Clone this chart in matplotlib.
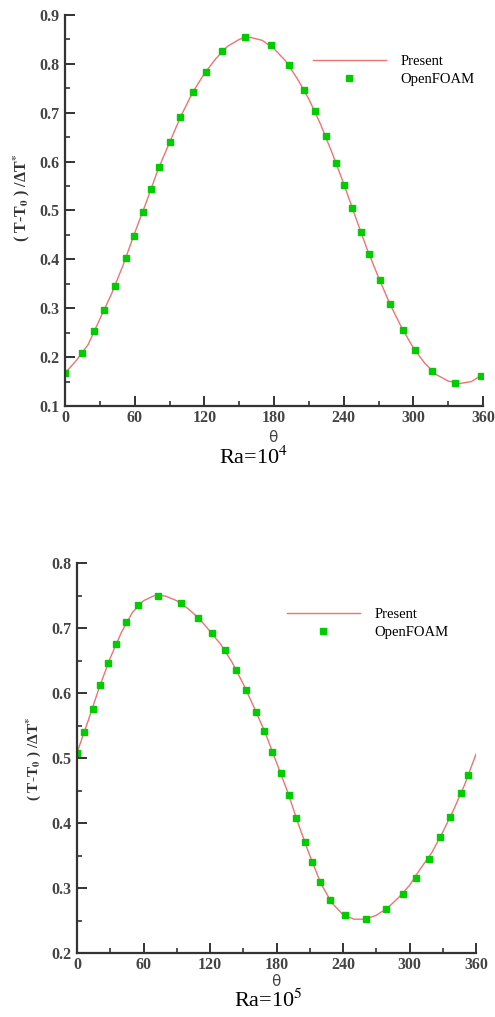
import matplotlib
matplotlib.use('Agg')
import matplotlib.pyplot as plt
from matplotlib.ticker import MultipleLocator, FormatStrFormatter

plt.rcParams['mathtext.fontset'] = 'stix'

# Ra = 1e4 : solver curve and OpenFOAM points
theta_line_4 = [0, 10, 20, 30, 40, 50, 60, 70, 80, 90, 100, 110, 120, 130, 140, 150,
                155, 160, 170, 180, 190, 200, 210, 220, 230, 240, 250, 260, 270, 280,
                290, 300, 310, 320, 330, 340, 350, 360]
present_4 = [0.167, 0.194, 0.226, 0.278, 0.329, 0.388, 0.454, 0.517, 0.583, 0.639, 0.694,
             0.742, 0.780, 0.811, 0.836, 0.850, 0.854, 0.854, 0.848, 0.831, 0.806, 0.770,
             0.728, 0.677, 0.618, 0.555, 0.488, 0.422, 0.363, 0.308, 0.260, 0.219, 0.187,
             0.164, 0.151, 0.146, 0.150, 0.165]
theta_of_4 = [0, 14.6, 25, 33.9, 43, 52.2, 59.1, 66.9, 73.8, 81.2, 90.4, 99.3, 110, 121.1,
              134.9, 155, 177.1, 192.9, 206, 215.3, 224.4, 233.3, 240.5, 247.4, 254.9,
              261.7, 270.9, 279.8, 291, 301.1, 316, 335.5, 357.9]
openfoam_4 = [0.167, 0.208, 0.253, 0.297, 0.345, 0.402, 0.448, 0.496, 0.544, 0.590, 0.641,
              0.691, 0.742, 0.784, 0.826, 0.854, 0.839, 0.797, 0.747, 0.703, 0.652, 0.598,
              0.552, 0.505, 0.457, 0.411, 0.358, 0.309, 0.256, 0.215, 0.172, 0.148, 0.161]

# Ra = 1e5
theta_line_5 = [0, 10, 20, 30, 40, 50, 60, 70, 75, 80, 90, 100, 110, 120, 130, 140, 150,
                160, 170, 180, 190, 200, 210, 220, 230, 240, 250, 260, 270, 280, 290, 300,
                310, 320, 330, 340, 350, 360]
present_5 = [0.508, 0.557, 0.608, 0.654, 0.693, 0.724, 0.742, 0.750, 0.750, 0.749, 0.742,
             0.730, 0.715, 0.695, 0.674, 0.647, 0.614, 0.577, 0.538, 0.493, 0.448, 0.397,
             0.350, 0.307, 0.277, 0.259, 0.252, 0.252, 0.258, 0.269, 0.285, 0.304, 0.330,
             0.354, 0.386, 0.421, 0.460, 0.506]
theta_of_5 = [0, 6.3, 14.1, 20.8, 28, 35.5, 44.5, 55.3, 73.4, 93.5, 109.5, 121.8, 133.3,
              143.7, 152.8, 161.5, 169, 176.2, 183.8, 191, 197.9, 205.4, 212.3, 219.3,
              228.3, 241.5, 260.8, 279.1, 293.9, 305.9, 317.3, 327.8, 336.8, 346.2, 353.1]
openfoam_5 = [0.508, 0.540, 0.576, 0.612, 0.646, 0.676, 0.709, 0.736, 0.750, 0.738, 0.716,
              0.692, 0.666, 0.635, 0.605, 0.571, 0.542, 0.510, 0.477, 0.443, 0.407, 0.371,
              0.340, 0.310, 0.281, 0.258, 0.253, 0.268, 0.291, 0.316, 0.345, 0.378, 0.410,
              0.446, 0.474]

W, H = 495, 1017
fig = plt.figure(figsize=(W / 100, H / 100), dpi=100)

line_col = '#eb7575'
pt_col = '#00cc00'
axis_col = '#333333'
tick_col = '#444444'
ylabel = '( T-T$_\\mathbf{0}$ ) /ΔT$^\\mathbf{*}$'


def px_axes(l, r, t, b):
    return fig.add_axes([l / W, 1 - b / H, (r - l) / W, (b - t) / H])


def style(ax, ylim, ymaj):
    ax.set_xlim(0, 360)
    ax.set_ylim(*ylim)
    ax.xaxis.set_major_locator(MultipleLocator(60))
    ax.xaxis.set_minor_locator(MultipleLocator(30))
    ax.yaxis.set_major_locator(MultipleLocator(ymaj))
    ax.yaxis.set_minor_locator(MultipleLocator(ymaj / 2))
    ax.yaxis.set_major_formatter(FormatStrFormatter('%.1f'))
    for s in ['top', 'right']:
        ax.spines[s].set_visible(False)
    for s in ['left', 'bottom']:
        ax.spines[s].set_linewidth(1.6)
        ax.spines[s].set_color(axis_col)
    ax.tick_params(which='major', direction='in', length=7, width=1.4, color=axis_col,
                   labelcolor=tick_col, labelsize=11.5)
    ax.tick_params(which='minor', direction='in', length=3.5, width=1.2, color=axis_col)
    ax.tick_params(axis='x', pad=3)
    ax.tick_params(axis='y', pad=4)
    for lab in ax.get_xticklabels() + ax.get_yticklabels():
        lab.set_family('Liberation Serif')
        lab.set_fontweight('bold')


def legend(ax, x, y):
    ax.legend(loc='center left', bbox_to_anchor=(x, y), frameon=False, borderpad=0,
              borderaxespad=0, handlelength=5.0, handletextpad=1.0, labelspacing=0.35,
              prop={'family': 'Liberation Serif', 'size': 10.5})


ax1 = px_axes(65, 483, 15, 406)
ax1.plot(theta_line_4, present_4, color=line_col, lw=1.0, label='Present')
ax1.plot(theta_of_4, openfoam_4, ls='none', marker='s', ms=4.5, color=pt_col,
         label='OpenFOAM')
style(ax1, (0.1, 0.9), 0.1)
legend(ax1, 0.593, 0.858)

ax2 = px_axes(77, 476, 563, 953)
ax2.plot(theta_line_5, present_5, color=line_col, lw=1.0, label='Present')
ax2.plot(theta_of_5, openfoam_5, ls='none', marker='s', ms=4.5, color=pt_col,
         label='OpenFOAM')
style(ax2, (0.2, 0.8), 0.1)
legend(ax2, 0.526, 0.845)

# axis titles and captions
fig.text(22 / W, 1 - 198 / H, ylabel, rotation=90, ha='center', va='center',
         family='Liberation Serif', fontweight='bold', fontsize=11.5, color='#333333')
fig.text(34 / W, 1 - 759 / H, ylabel, rotation=90, ha='center', va='center',
         family='Liberation Serif', fontweight='bold', fontsize=11, color='#333333')
fig.text(273 / W, 1 - 437 / H, 'θ', ha='center', va='center', fontsize=11,
         color='#444444')
fig.text(276 / W, 1 - 982 / H, 'θ', ha='center', va='center', fontsize=11,
         color='#444444')
fig.text(254 / W, 1 - 458 / H, 'Ra=10$^{4}$', ha='center', va='center',
         family='Liberation Serif', fontsize=16, color='black')
fig.text(268 / W, 1 - 1001 / H, 'Ra=10$^{5}$', ha='center', va='center',
         family='Liberation Serif', fontsize=16, color='black')

fig.savefig('out.png', dpi=100)
